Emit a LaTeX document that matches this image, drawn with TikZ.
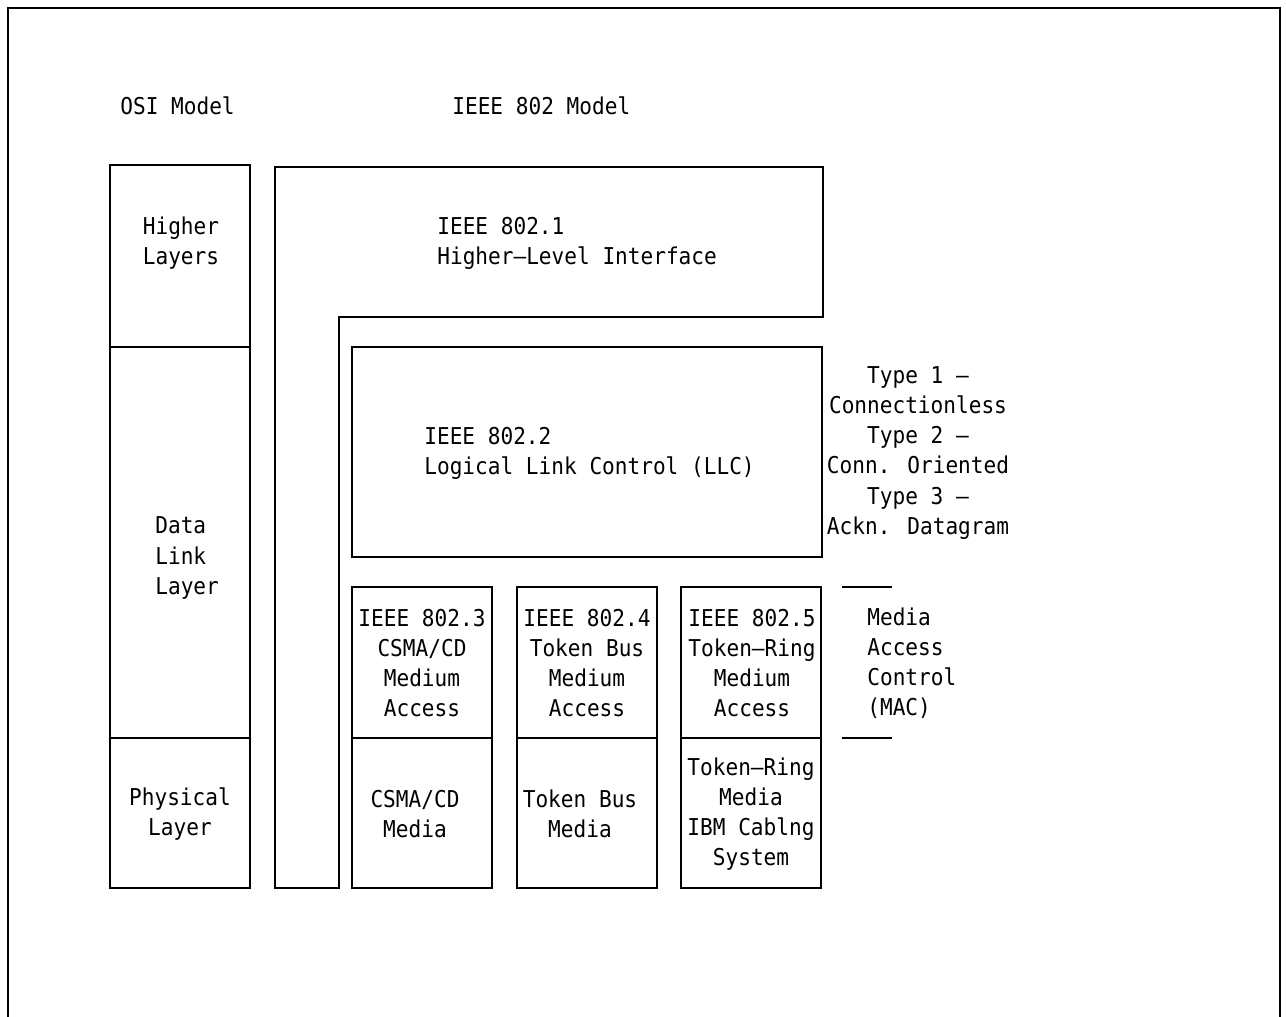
\documentclass[tikz,border=0pt]{standalone}
\usepackage{fontspec}
\setmainfont[FakeStretch=0.91]{DejaVu Sans Mono}
\usepackage{tikz}
\usetikzlibrary{shapes,arrows}
\tikzstyle{layer} = [rectangle, draw, line width=0.9pt, inner sep=0pt, outer sep=0pt]
\tikzstyle{words} = [font=\fontsize{13.2}{17.1}\selectfont, inner sep=0pt, align=center]
\tikzstyle{outline} = [draw, line width=0.9pt]

\begin{document}
\begin{tikzpicture}[x=0.02cm, y=-0.02cm]
    \useasboundingbox (0,0) rectangle (1286,1017);
    % Frame
    \path [outline] (8,1017) -- (8,8) -- (1280,8) -- (1280,1017);
    % Headings
    \node [words, anchor=west] (osititle) at (120,106) {OSI Model};
    \node [words, anchor=west] (ieeetitle) at (452,106) {IEEE 802 Model};
    % OSI column
    \node [layer, minimum width=2.8cm, minimum height=3.64cm] (higher) at (180,256) {};
    \node [layer, minimum width=2.8cm, minimum height=7.82cm] (datalink) at (180,542.5) {};
    \node [layer, minimum width=2.8cm, minimum height=3cm] (physical) at (180,813) {};
    \node [words] (highertext) at (181,243) {Higher\\Layers};
    \node [words, align=left, anchor=west] (datalinktext) at (155,558) {Data\\Link\\Layer};
    \node [words] (physicaltext) at (180,814) {Physical\\Layer};
    % IEEE 802.1 L-shape
    \path [outline] (275,167) -- (823,167) -- (823,317) -- (339,317) -- (339,888) -- (275,888) -- cycle;
    \node [words, align=left, anchor=west] (hli) at (437,243) {IEEE 802.1\\Higher–Level Interface};
    % IEEE 802.2 LLC
    \node [layer, minimum width=9.4cm, minimum height=4.2cm] (llc) at (587,452) {};
    \node [words, align=left, anchor=west] (llctext) at (424,453) {IEEE 802.2\\Logical Link Control (LLC)};
    \node [words] (llctypes) at (918,453) {Type 1 –\\Connectionless\\Type 2 –\\Conn. Oriented\\Type 3 –\\Ackn. Datagram};
    % MAC sublayer boxes
    \node [layer, minimum width=2.8cm, minimum height=3.02cm] (mac3) at (422,662.5) {};
    \node [layer, minimum width=2.8cm, minimum height=3.02cm] (mac4) at (587,662.5) {};
    \node [layer, minimum width=2.8cm, minimum height=3.02cm] (mac5) at (751,662.5) {};
    \node [words] (mac3text) at (422,663) {IEEE 802.3\\CSMA/CD\\Medium\\Access};
    \node [words] (mac4text) at (587,663) {IEEE 802.4\\Token Bus\\Medium\\Access};
    \node [words] (mac5text) at (752,663) {IEEE 802.5\\Token–Ring\\Medium\\Access};
    % Physical media boxes
    \node [layer, minimum width=2.8cm, minimum height=3cm] (phy3) at (422,813) {};
    \node [layer, minimum width=2.8cm, minimum height=3cm] (phy4) at (587,813) {};
    \node [layer, minimum width=2.8cm, minimum height=3cm] (phy5) at (751,813) {};
    \node [words] (phy3text) at (415,814) {CSMA/CD\\Media};
    \node [words] (phy4text) at (580,814) {Token Bus\\Media};
    \node [words] (phy5text) at (751,814) {Token–Ring\\Media\\IBM Cablng\\System};
    % MAC bracket
    \coordinate (bracketa) at (842,587);
    \coordinate (bracketb) at (892,587);
    \coordinate (bracketc) at (842,738);
    \coordinate (bracketd) at (892,738);
    \path [outline] (bracketa) -- (bracketb);
    \path [outline] (bracketc) -- (bracketd);
    \node [words, align=left, anchor=west] (mactext) at (867,663) {Media\\Access\\Control\\(MAC)};
\end{tikzpicture}
\end{document}
